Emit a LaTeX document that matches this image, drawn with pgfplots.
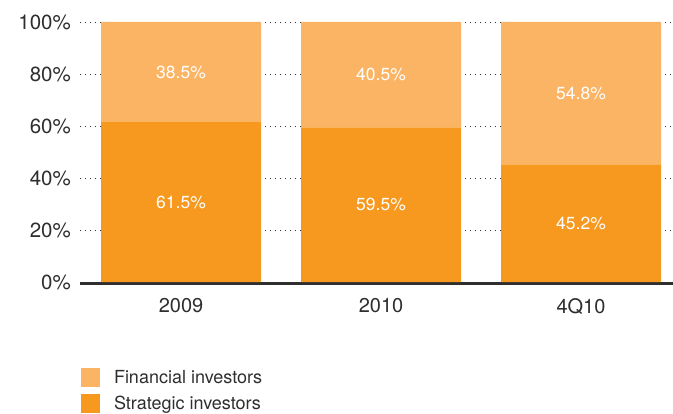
\documentclass[border=0pt]{standalone}
\usepackage{fontspec}
\setmainfont{TeX Gyre Heros}
\usepackage{pgfplots}
\pgfplotsset{compat=1.18}
\usepackage{pgfplotstable}
\definecolor{strat}{HTML}{F7981F}
\definecolor{fin}{HTML}{FBB463}
\definecolor{txt}{HTML}{2E2E2E}

\pgfplotstableread{
x strat fin
0 61.5 38.5
1 59.5 40.5
2 45.2 54.8
}\data

\pgfplotstableread{
x y val
0 30.75 61.5
1 29.75 59.5
2 22.6 45.2
0 80.75 38.5
1 79.75 40.5
2 72.6 54.8
}\labels

\begin{document}
\begin{tikzpicture}
\path[use as bounding box] (0bp,0bp) rectangle (673bp,414bp);
\begin{axis}[
  at={(80bp,132bp)}, anchor=south west,
  scale only axis, width=593bp, height=260bp,
  clip=false,
  ybar stacked, bar width=0.8,
  xmin=-0.505, xmax=2.46, ymin=0, ymax=100,
  xtick={0,1,2}, xticklabels={2009,2010,4Q10},
  ytick={0,20,40,60,80,100},
  yticklabel={\pgfmathprintnumber{\tick}\%},
  /pgf/number format/assume math mode=true,
  major tick length=0pt,
  tick style={draw=none},
  axis line style={draw=none},
  ymajorgrids,
  grid style={dash pattern=on 1bp off 4bp, line width=0.9bp, txt},
  yticklabel style={inner sep=0pt, xshift=-9bp, font=\fontsize{20.5bp}{24bp}\selectfont, text=txt},
  xticklabel style={inner sep=0pt, anchor=north, yshift=-16bp, font=\fontsize{20bp}{24bp}\selectfont, text=txt},
  legend style={at={(axis description cs:0.0017,-0.33)}, anchor=north west,
    draw=none, fill=none, inner sep=0pt, outer sep=0pt, row sep=7.5bp,
    font=\fontsize{18bp}{21bp}\selectfont, text=txt,
    nodes={inner sep=0pt},
    /tikz/every odd column/.append style={column sep=14bp}},
  legend cell align=left,
  reverse legend,
  legend image code/.code={\fill[#1,draw=none] (0bp,-9.5bp) rectangle (19bp,9.5bp);},
]
\addplot[fill=strat, draw=none] table[x=x, y=strat]{\data};
\addplot[fill=fin, draw=none] table[x=x, y=fin]{\data};
\legend{Strategic investors, Financial investors}
\draw[line width=3bp, txt] ([yshift=-1.5bp]rel axis cs:0,0) -- ([yshift=-1.5bp]rel axis cs:1,0);
\end{axis}
\begin{axis}[
  at={(80bp,132bp)}, anchor=south west,
  scale only axis, width=593bp, height=260bp,
  xmin=-0.505, xmax=2.46, ymin=0, ymax=100,
  hide axis,
]
\addplot[only marks, mark=none, point meta=explicit,
  nodes near coords={\pgfmathprintnumber[fixed,precision=1,fixed zerofill]{\pgfplotspointmeta}\%},
  every node near coord/.style={anchor=center, text=white, font=\fontsize{17.5bp}{20bp}\selectfont, /pgf/number format/assume math mode=true}]
  table[x=x, y=y, meta=val]{\labels};
\end{axis}
\end{tikzpicture}
\end{document}
